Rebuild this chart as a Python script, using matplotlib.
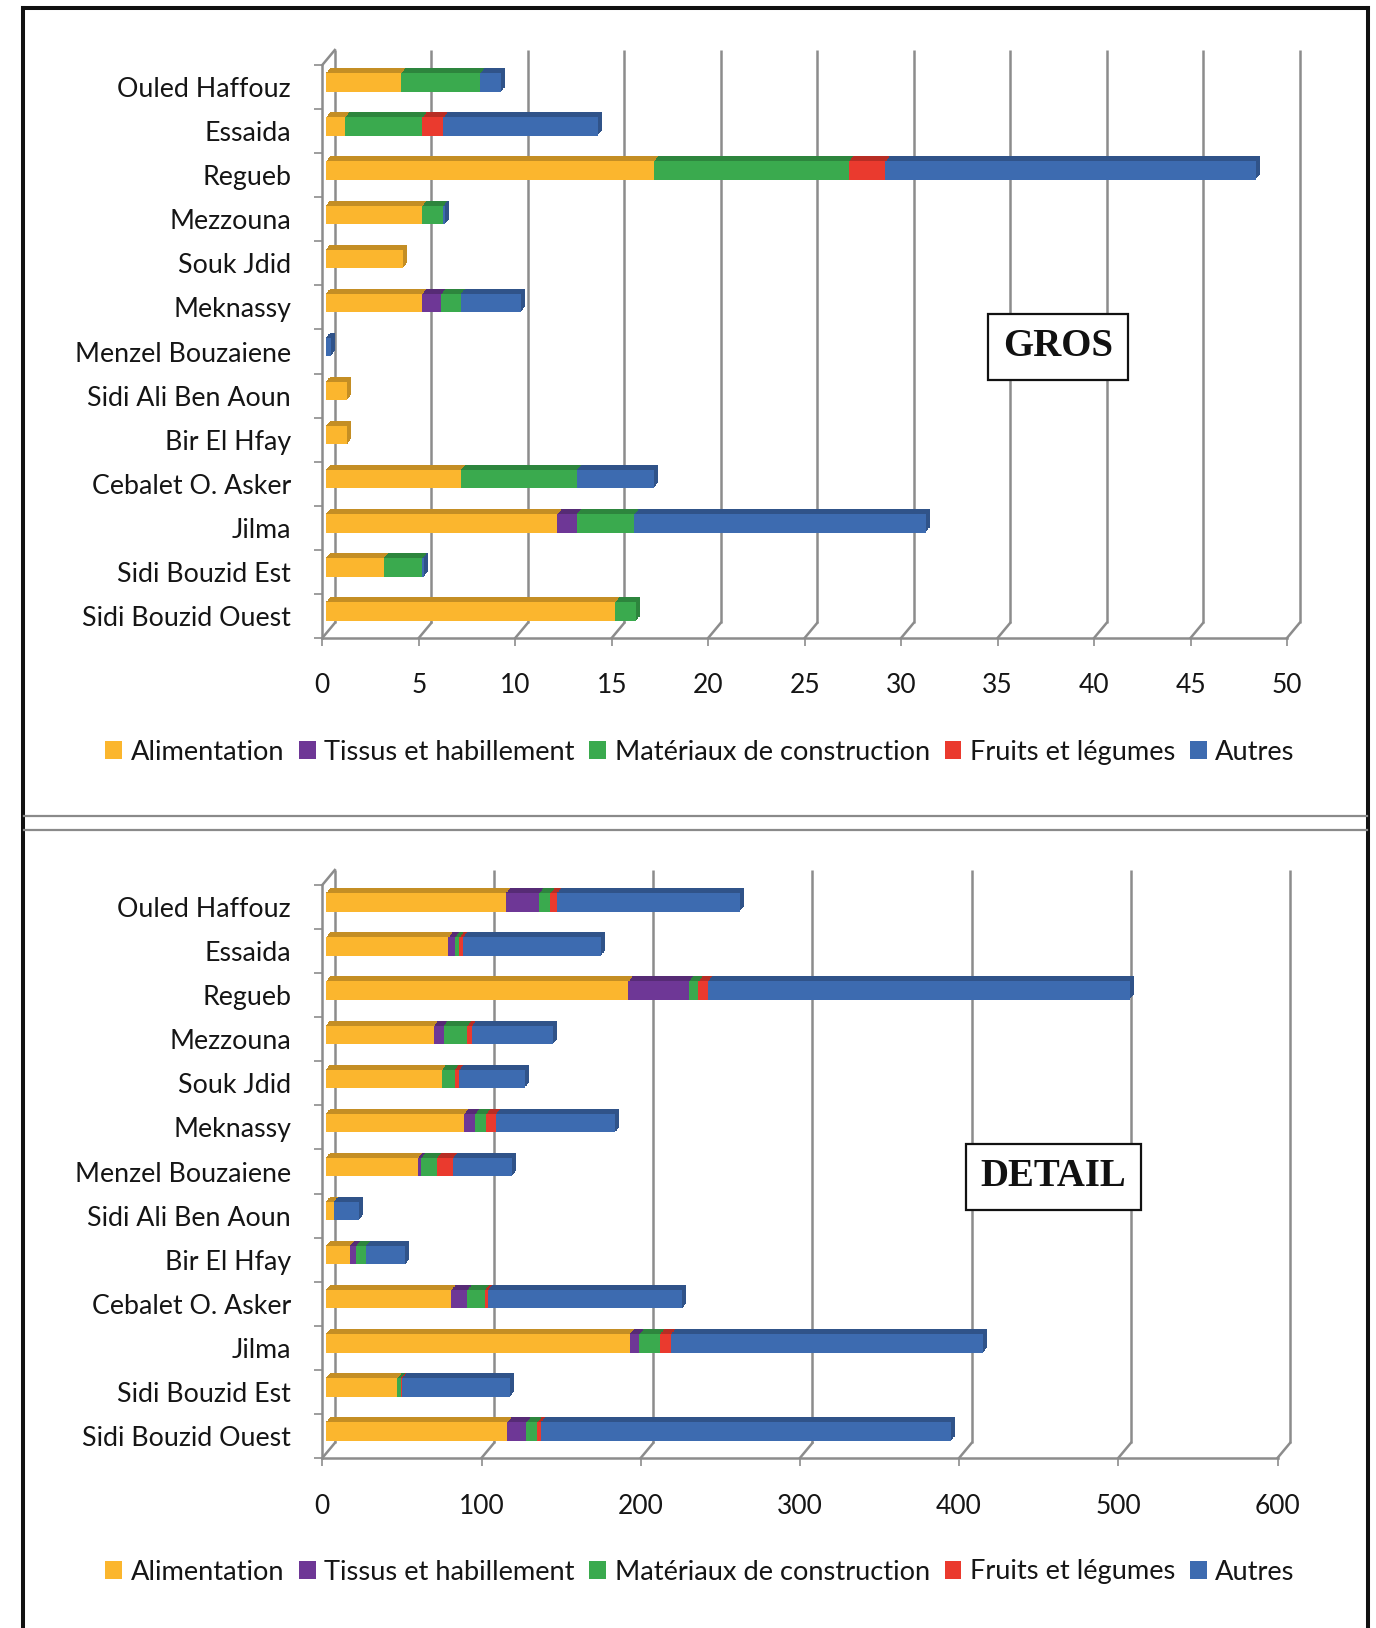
import numpy as np
import matplotlib
matplotlib.use("Agg")
import matplotlib.pyplot as plt
from matplotlib.patches import Patch
from matplotlib.lines import Line2D
import matplotlib.colors as mcolors

# ---------------- data ----------------
categories = ["Ouled Haffouz", "Essaida", "Regueb", "Mezzouna", "Souk Jdid",
              "Meknassy", "Menzel Bouzaiene", "Sidi Ali Ben Aoun", "Bir El Hfay",
              "Cebalet O. Asker", "Jilma", "Sidi Bouzid Est", "Sidi Bouzid Ouest"]
series_names = ["Alimentation", "Tissus et habillement", "Matériaux de construction",
                "Fruits et légumes", "Autres"]

gros_alimentation = [3.9, 1.0, 17.0, 5.0, 4.0, 5.0, 0.0, 1.1, 1.1, 7.0, 12.0, 3.0, 15.0]
gros_tissus       = [0.0, 0.0, 0.0, 0.0, 0.0, 1.0, 0.0, 0.0, 0.0, 0.0, 1.0, 0.0, 0.0]
gros_materiaux    = [4.1, 4.0, 10.1, 1.1, 0.0, 1.0, 0.0, 0.0, 0.0, 6.0, 3.0, 2.0, 1.1]
gros_fruits       = [0.0, 1.1, 1.9, 0.0, 0.0, 0.0, 0.0, 0.0, 0.0, 0.0, 0.0, 0.0, 0.0]
gros_autres       = [1.1, 8.0, 19.2, 0.1, 0.0, 3.1, 0.25, 0.0, 0.0, 4.0, 15.1, 0.1, 0.0]

detail_alimentation = [113, 77, 190, 68, 73, 87, 58, 5, 15, 79, 191, 45, 114]
detail_tissus       = [21, 4, 38, 6, 0, 7, 2, 0, 4, 10, 6, 0, 12]
detail_materiaux    = [7, 3, 6, 15, 8, 7, 10, 0, 6, 11, 13, 2, 7]
detail_fruits       = [4, 2, 6, 3, 3, 6, 10, 0, 0, 2, 7, 1, 2]
detail_autres       = [115, 87, 265, 51, 41, 75, 37, 16, 25, 122, 196, 68, 258]

gros_ticks = [0, 5, 10, 15, 20, 25, 30, 35, 40, 45, 50]
detail_ticks = [0, 100, 200, 300, 400, 500, 600]

colors = ["#FBB62E", "#6E3796", "#3AAA4E", "#EA3A2E", "#3D6BB0"]

# ---------------- figure ----------------
W, H = 1376, 1628
fig = plt.figure(figsize=(W / 100, H / 100), dpi=100)
fig.patch.set_facecolor("white")
FONT = "Lato"
TXT = "#151515"
GRID = "#8c8c8c"


def fx(px):
    return px / W


def fy(py):
    return 1 - py / H


def make_axes(left, right, top, bottom):
    return fig.add_axes([fx(left), fy(bottom), (right - left) / W, (bottom - top) / H])


def darker(c, f):
    r, g, b = mcolors.to_rgb(c)
    return (r * f, g * f, b * f)


def panel(ax, box_px, ticks, series, title, title_xy, label_pad):
    left, right, top, bottom = box_px
    xmax = ticks[-1]
    n = len(categories)
    ax.set_xlim(0, xmax)
    ax.set_ylim(n - 0.5, -0.5)
    ax.set_facecolor("none")
    for s in ax.spines.values():
        s.set_visible(False)
    ppx = (right - left) / xmax
    ppy = (bottom - top) / n
    # back wall offset
    bdx, bdy = 12.5 / ppx, 15.0 / ppy
    lw = 1.8
    for t in ticks:
        ax.plot([t + bdx, t + bdx], [n - 0.5 - bdy, -0.5 - bdy], color=GRID, lw=lw,
                clip_on=False, zorder=0.5, solid_capstyle="butt")
        ax.plot([t, t + bdx], [n - 0.5, n - 0.5 - bdy], color=GRID, lw=lw,
                clip_on=False, zorder=0.5)
    # front axes lines
    ax.plot([0, xmax], [n - 0.5, n - 0.5], color=GRID, lw=lw, clip_on=False, zorder=0.6)
    ax.plot([0, 0], [n - 0.5, -0.5], color=GRID, lw=lw, clip_on=False, zorder=0.6)
    ax.plot([0, bdx], [-0.5, -0.5 - bdy], color=GRID, lw=lw, clip_on=False, zorder=0.6)

    # bars (pseudo 3D)
    idx = np.arange(n)
    ofx, ofy = 3.4 / ppx, 4.5 / ppy
    depx, depy = 4.0 / ppx, 5.0 / ppy
    hgt = 0.42
    steps = np.linspace(1.0, 0.0, 7)[:-1]
    for s in steps:
        cum = np.zeros(n)
        for vals, col in zip(series, colors):
            v = np.array(vals, dtype=float)
            m = v > 0
            ax.barh(idx[m] - ofy - s * depy, v[m], left=cum[m] + ofx + s * depx, height=hgt,
                    color=darker(col, 0.78), zorder=2, linewidth=0)
            cum += v
    cum = np.zeros(n)
    for vals, col in zip(series, colors):
        v = np.array(vals, dtype=float)
        m = v > 0
        ax.barh(idx[m] - ofy, v[m], left=cum[m] + ofx, height=hgt, color=col, zorder=3,
                linewidth=0)
        cum += v

    # ticks and labels
    ax.set_xticks(ticks)
    ax.set_xticklabels([str(t) for t in ticks], fontfamily=FONT, fontsize=19, color=TXT)
    ax.tick_params(axis="x", length=8 * 0.72, width=1.2, color=GRID, direction="out",
                   pad=label_pad)
    ax.set_yticks(idx)
    ax.set_yticklabels(categories, fontfamily=FONT, fontsize=19.3, color=TXT)
    ax.tick_params(axis="y", which="major", length=0, pad=22.5)
    ax.set_yticks(np.arange(-0.5, n, 1.0), minor=True)
    ax.tick_params(axis="y", which="minor", length=8 * 0.72, width=1.2, color=GRID,
                   direction="out")

    fig.text(fx(title_xy[0]), fy(title_xy[1]), title, ha="center", va="center",
             fontfamily="Liberation Serif", fontweight="bold", fontsize=28, color="#111111",
             bbox=dict(boxstyle="square,pad=0.38", facecolor="white", edgecolor="#111111",
                       linewidth=1.6), zorder=10)


gros_box = (322.3, 1287.0, 65.0, 638.0)
detail_box = (322.3, 1277.5, 885.0, 1458.0)
ax1 = make_axes(*gros_box)
ax2 = make_axes(*detail_box)

panel(ax1, gros_box, gros_ticks,
      [gros_alimentation, gros_tissus, gros_materiaux, gros_fruits, gros_autres],
      "GROS", (1058, 347), 19.5)
panel(ax2, detail_box, detail_ticks,
      [detail_alimentation, detail_tissus, detail_materiaux, detail_fruits, detail_autres],
      "DETAIL", (1053.5, 1177), 20.5)

# legends
handles = [Patch(facecolor=c, edgecolor="none") for c in colors]
for ly in (752, 1572):
    fig.legend(handles, series_names, loc="center", bbox_to_anchor=(fx(700), fy(ly)),
               ncol=5, frameon=False, handlelength=0.62, handleheight=0.62,
               handletextpad=0.3, columnspacing=0.55,
               prop=dict(family=FONT, size=19.6))
for leg in fig.legends:
    for t in leg.get_texts():
        t.set_color(TXT)

# outer frame and separator
frame_kw = dict(color="#111111", lw=2.9, transform=fig.transFigure, solid_capstyle="projecting")
fig.add_artist(Line2D([fx(23), fx(23)], [fy(8), fy(H + 5)], **frame_kw))
fig.add_artist(Line2D([fx(1368), fx(1368)], [fy(8), fy(H + 5)], **frame_kw))
fig.add_artist(Line2D([fx(23), fx(1368)], [fy(8), fy(8)], **frame_kw))
for sy in (816, 830):
    fig.add_artist(Line2D([fx(24), fx(1367)], [fy(sy), fy(sy)], color="#8a8a8a", lw=1.6,
                          transform=fig.transFigure))

fig.savefig("out.png", dpi=100, facecolor="white")
